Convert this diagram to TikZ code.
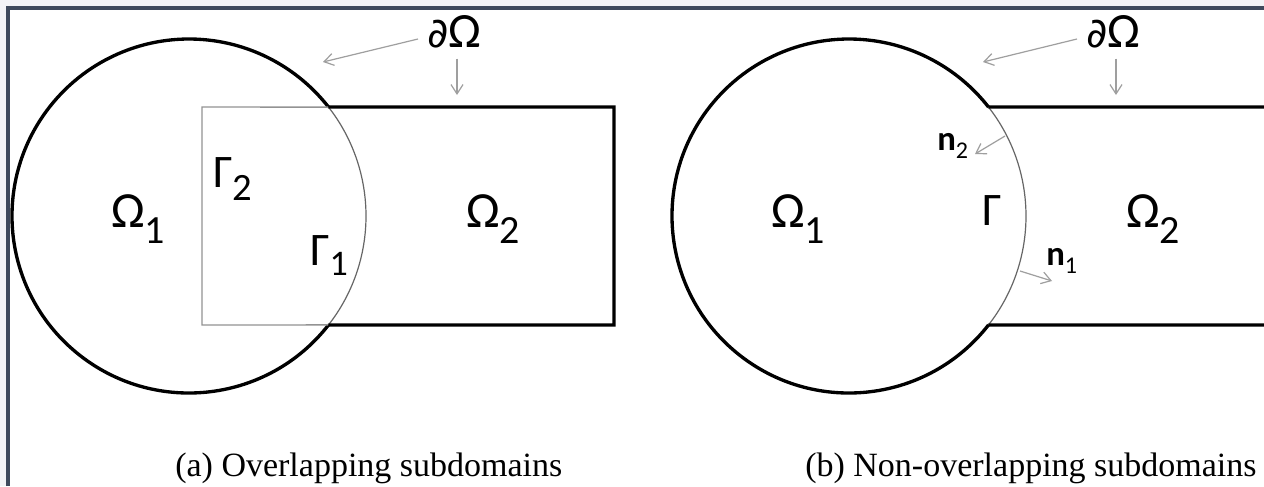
\documentclass[tikz,border=0pt]{standalone}
\usepackage{fontspec}
\setmainfont{Carlito}
\newfontfamily\capfont{Liberation Serif}
\newfontfamily\delfont{DejaVu Sans}
\usetikzlibrary{arrows.meta}

\definecolor{framecol}{HTML}{3F4A5C}
\definecolor{margincol}{HTML}{F3F4F6}
\newcommand{\lowsub}[3]{\raisebox{-#1}{\fontsize{#2}{#2}\selectfont #3}}

\tikzset{
  bound/.style={line width=2.5pt, black},
  innerbox/.style={line width=1.1pt, gray!85},
  iface/.style={line width=0.9pt, black!60},
  ptr/.style={-{Straight Barb[length=7pt,width=9pt]}, line width=0.9pt, gray!75},
  dom/.style={font=\fontsize{38}{40}\selectfont, inner sep=0pt, anchor=base west},
  gam/.style={font=\fontsize{35}{38}\selectfont, inner sep=0pt, anchor=base west},
  nrm/.style={font=\fontsize{26}{28}\selectfont\bfseries, inner sep=0pt, anchor=base west},
  bnd/.style={font=\fontsize{37}{39}\selectfont, inner sep=0pt, anchor=base west},
  captxt/.style={font=\fontsize{25.5}{28}\selectfont\capfont, inner sep=0pt, anchor=base west}
}

\begin{document}
\begin{tikzpicture}[x=0.75pt, y=-0.75pt]
  \useasboundingbox (0,0) rectangle (1264,486);
  \fill[margincol] (0,0) rectangle (1264,486);
  \fill[white] (8,8) rectangle (1264,486);
  \draw[framecol, line width=2.4pt] (8,486) -- (8,8) -- (1264,8);

  % (a) overlapping subdomains
  \coordinate (ca) at (189,216);
  \path (ca) ++(-38:177) coordinate (atop);
  \path (ca) ++(38:177) coordinate (abot);
  \draw[bound] (abot) arc[start angle=38, end angle=322, radius=177];
  \draw[iface] (atop) arc[start angle=-38, end angle=38, radius=177];
  \draw[innerbox] (atop) -- (202,107) -- (202,325) -- (abot);
  \draw[bound] (atop) -- (614,107) -- (614,325) -- (abot);

  \node[dom] (om1a) at (111,227) {Ω\lowsub{12pt}{30}{1}};
  \node[dom] (om2a) at (466,227) {Ω\lowsub{12pt}{30}{2}};
  \node[gam] (gam2) at (213,187) {Γ\lowsub{10pt}{29}{2}};
  \node[gam] (gam1) at (310,265) {Γ\lowsub{8pt}{27}{1}};

  \node[bnd] (dOa) at (427,47) {{\delfont\fontsize{31}{33}\selectfont ∂}Ω};
  \coordinate (dOa-c) at (323,62);
  \coordinate (dOa-r) at (457,95);
  \draw[ptr] (dOa.west |- 0,39) ++(-9,0) -- (dOa-c);
  \draw[ptr, shorten <=8pt] (dOa.south -| dOa-r) -- (dOa-r);

  \node[captxt] (capa) at (175,476) {(a) Overlapping subdomains};

  % (b) non-overlapping subdomains
  \coordinate (cb) at (849,216);
  \path (cb) ++(-38:177) coordinate (btop);
  \path (cb) ++(38:177) coordinate (bbot);
  \draw[bound] (bbot) arc[start angle=38, end angle=322, radius=177];
  \draw[iface] (btop) arc[start angle=-38, end angle=38, radius=177];
  \draw[bound] (btop) -- (1264,107);
  \draw[bound] (bbot) -- (1264,325);

  \node[dom] (om1b) at (771,227) {Ω\lowsub{12pt}{30}{1}};
  \node[dom] (om2b) at (1126,227) {Ω\lowsub{12pt}{30}{2}};
  \node[gam] (gamb) at (982,225) {Γ};

  \node[nrm] (n2) at (937,150) {n\lowsub{6pt}{18}{\mdseries 2}};
  \node[nrm] (n1) at (1046,265) {n\lowsub{6pt}{18}{\mdseries 1}};
  \coordinate (n2-foot) at (1005,136);
  \coordinate (n2-tip) at (975,154);
  \coordinate (n1-foot) at (1020,271);
  \coordinate (n1-tip) at (1052,281);
  \draw[ptr] (n2-foot) -- (n2-tip);
  \draw[ptr] (n1-foot) -- (n1-tip);

  \node[bnd] (dOb) at (1086,47) {{\delfont\fontsize{31}{33}\selectfont ∂}Ω};
  \coordinate (dOb-c) at (983,62);
  \coordinate (dOb-r) at (1116,95);
  \draw[ptr] (dOb.west |- 0,39) ++(-9,0) -- (dOb-c);
  \draw[ptr, shorten <=8pt] (dOb.south -| dOb-r) -- (dOb-r);

  \node[captxt] (capb) at (805,476) {(b) Non-overlapping subdomains};
\end{tikzpicture}
\end{document}
